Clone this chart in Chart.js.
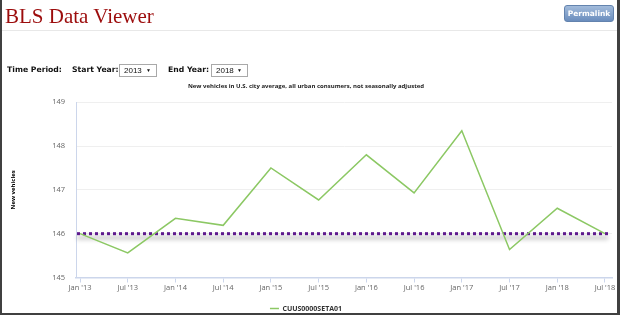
<!DOCTYPE html>
<html>
<head>
<meta charset="utf-8">
<title>BLS Data Viewer</title>
<script src="https://cdn.jsdelivr.net/npm/chart.js@4/dist/chart.umd.min.js"></script>
<style>
  html, body { margin: 0; padding: 0; background: #fff; }
  #page { position: relative; width: 620px; height: 315px; overflow: hidden; }
  #chart { position: absolute; left: 0; top: 0; }
  #frame { position: absolute; left: 0; top: 0; width: 620px; height: 315px; box-sizing: border-box;
           border-left: 2px solid #404040; border-right: 3px solid #404040; border-bottom: 2px solid #404040; }
  #title { position: absolute; left: 5px; top: 6px; font: 21px/1 "Liberation Serif", serif; color: #9c0c0c; }
  #sep { position: absolute; left: 0; top: 30px; width: 617px; height: 1px; background: #e8e8e8; }
  #permalink { position: absolute; left: 564px; top: 5px; width: 50px; height: 17px; box-sizing: border-box;
               border: 1px solid #6383ae; border-radius: 3px; background: linear-gradient(#a2bbdb, #6a8dbd);
               color: #fff; font: bold 7.5px/15px "DejaVu Sans", sans-serif; text-align: center; }
  .lbl { position: absolute; top: 63px; line-height: 14px; font: bold 7.7px/14px "DejaVu Sans", sans-serif; color: #111; }
  .sel { position: absolute; top: 64px; height: 13px; box-sizing: border-box; border: 1px solid #a9a9a9; background: #fff;
         font: 8px/11px "Liberation Sans", sans-serif; color: #111; padding-left: 4px; }
  .sel span { position: absolute; right: 5px; top: 0; font-size: 5px; line-height: 11px; }
</style>
</head>
<body>
<div id="page">
  <canvas id="chart" width="620" height="330"></canvas>
  <div id="title">BLS Data Viewer</div>
  <div id="sep"></div>
  <div id="permalink">Permalink</div>
  <div class="lbl" style="left:7px">Time Period:</div>
  <div class="lbl" style="left:72px">Start Year:</div>
  <div class="sel" style="left:119px;width:38px">2013<span>&#9660;</span></div>
  <div class="lbl" style="left:168px">End Year:</div>
  <div class="sel" style="left:211px;width:37px">2018<span>&#9660;</span></div>
  <div id="frame"></div>
</div>
<script>
// semiannual periods shown on the x axis
const periods = ["Jan '13", "Jul '13", "Jan '14", "Jul '14", "Jan '15", "Jul '15",
                 "Jan '16", "Jul '16", "Jan '17", "Jul '17", "Jan '18", "Jul '18"];
// index values
const cpiValues = [146.0, 145.56, 146.35, 146.19, 147.5, 146.77,
                   147.8, 146.93, 148.35, 145.64, 146.58, 146.0];
const yTicks = [145, 146, 147, 148, 149];
const baseValue = 146.0; // dotted reference line
const seriesName = "CUUS0000SETA01";
const chartTitle = "New vehicles in U.S. city average, all urban consumers, not seasonally adjusted";
const yTitle = "New vehicles";

const tickFont = { family: "Open Sans", size: 7.5 };

// dotted purple line with a soft grey shadow under it
const baseLinePlugin = {
  id: "baseLine",
  beforeDatasetsDraw(chart) {
    const { ctx, chartArea, scales } = chart;
    const y = scales.y.getPixelForValue(baseValue);
    const x0 = chartArea.left + 1;
    const x1 = chartArea.right - 4;
    ctx.save();
    ctx.filter = "blur(2px)";
    ctx.strokeStyle = "rgba(0,0,0,0.2)";
    ctx.lineWidth = 4;
    ctx.beginPath();
    ctx.moveTo(x0, y + 4);
    ctx.lineTo(x1, y + 4);
    ctx.stroke();
    ctx.filter = "none";
    ctx.strokeStyle = "#5e1a8e";
    ctx.lineWidth = 3;
    ctx.setLineDash([3, 3]);
    ctx.beginPath();
    ctx.moveTo(x0, y);
    ctx.lineTo(x1, y);
    ctx.stroke();
    ctx.restore();
  }
};

new Chart(document.getElementById("chart"), {
  type: "line",
  data: {
    datasets: [
      {
        label: seriesName,
        data: cpiValues.map((v, i) => ({ x: i, y: v })),
        borderColor: "#8cc864",
        borderWidth: 1.5,
        pointRadius: 0,
        tension: 0,
        fill: false,
      },
    ],
  },
  plugins: [baseLinePlugin],
  options: {
    responsive: false,
    animation: false,
    layout: { padding: { top: 83, right: 8, left: 0, bottom: 8 } },
    plugins: {
      title: {
        display: true,
        text: chartTitle,
        color: "#222",
        font: { family: "Open Sans", size: 6, weight: "bold" },
        padding: { top: 0, bottom: 12 },
      },
      legend: {
        position: "bottom",
        labels: {
          usePointStyle: true,
          pointStyle: "line",
          pointStyleWidth: 9,
          color: "#333",
          font: { family: "Open Sans", size: 7, weight: "bold" },
          padding: 3,
        },
      },
      tooltip: { enabled: false },
    },
    scales: {
      x: {
        type: "linear",
        min: -0.084,
        max: 11.147,
        afterBuildTicks: (s) => { s.ticks = periods.map((p, i) => ({ value: i })); },
        afterFit: (s) => { s.height = 24.5; },
        ticks: {
          callback: (v) => periods[v],
          color: "#666",
          font: tickFont,
          padding: 1,
          maxRotation: 0,
          autoSkip: false,
        },
        grid: { drawOnChartArea: false, drawTicks: true, tickLength: 5, color: "#ccd6eb" },
        border: { color: "#ccd6eb", width: 1.5 },
      },
      y: {
        min: 145,
        max: 149,
        afterBuildTicks: (s) => { s.ticks = yTicks.map((v) => ({ value: v })); },
        afterFit: (s) => { s.width = 76; },
        ticks: { color: "#666", font: tickFont, padding: 11 },
        grid: { color: "#efefef", drawTicks: false },
        border: { color: "#ccd6eb", width: 1 },
        title: {
          display: true,
          text: yTitle,
          color: "#000",
          font: { family: "Open Sans", size: 6, weight: "bold" },
          padding: { top: 10, bottom: 0 },
        },
      },
    },
  },
});
</script>
</body>
</html>
